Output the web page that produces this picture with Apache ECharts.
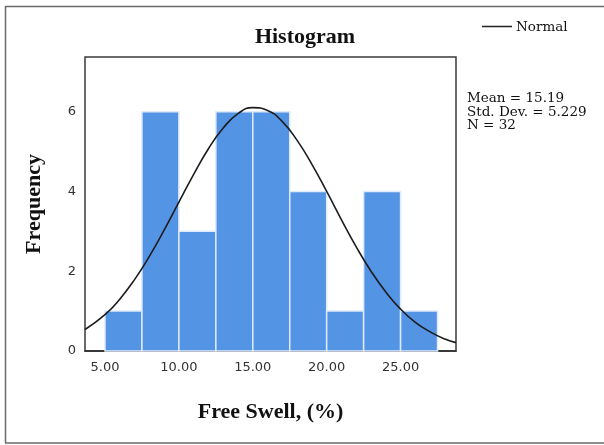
<!DOCTYPE html>
<html>
<head>
<meta charset="utf-8">
<script src="https://cdn.jsdelivr.net/npm/echarts@6/dist/echarts.min.js"></script>
<style>html,body{margin:0;padding:0;background:#fff}#c{width:604px;height:445px}</style>
</head>
<body>
<div id="c"></div>
<script>
// Histogram bins (lower edge, upper edge) and counts
var binStarts = [5.0, 7.5, 10.0, 12.5, 15.0, 17.5, 20.0, 22.5, 25.0];
var binEnds   = [7.5, 10.0, 12.5, 15.0, 17.5, 20.0, 22.5, 25.0, 27.5];
var counts    = [1, 6, 3, 6, 6, 4, 1, 4, 1];
// Normal curve
var curveX = [3.65, 5, 6, 7, 8, 9, 10, 11, 12, 13, 14, 15, 16, 17, 18, 19, 20, 21, 22, 23, 24, 25, 26, 27, 28, 28.75];
var curveY = [0.54, 0.91, 1.30, 1.79, 2.37, 3.03, 3.73, 4.43, 5.07, 5.59, 5.95, 6.10, 6.03, 5.75, 5.28, 4.68, 4.00, 3.29, 2.61, 2.00, 1.48, 1.05, 0.72, 0.48, 0.30, 0.21];
var xTickValues = [5, 10, 15, 20, 25];
var statsLines = ['Mean = 15.19', 'Std. Dev. = 5.229', 'N = 32'];

var barData = binStarts.map(function (s, i) { return [s, binEnds[i], counts[i]]; });
var curveData = curveX.map(function (x, i) { return [x, curveY[i]]; });

var chart = echarts.init(document.getElementById('c'), null, {renderer: 'canvas'});
var boldSerif = 'Liberation Serif';
chart.setOption({
  animation: false,
  backgroundColor: '#ffffff',
  grid: {left: 85, top: 57, right: 148, bottom: 94, show: true, borderColor: '#3a3a3a', borderWidth: 1.5, backgroundColor: 'transparent'},
  xAxis: {
    type: 'value', min: 3.647, max: 28.75,
    name: 'Free Swell, (%)', nameLocation: 'middle', nameGap: 50,
    nameTextStyle: {fontFamily: boldSerif, fontWeight: 'bold', fontSize: 22, color: '#111'},
    axisLine: {show: true, onZero: false, lineStyle: {color: '#2a2a2a', width: 1.5}},
    axisTick: {show: false},
    splitLine: {show: false},
    axisLabel: {customValues: xTickValues, formatter: function (v) { return Number(v).toFixed(2); },
      fontFamily: 'DejaVu Sans', fontSize: 13, color: '#333', margin: 10}
  },
  yAxis: {
    type: 'value', min: 0, max: 7.37, interval: 2,
    name: 'Frequency', nameLocation: 'middle', nameGap: 40,
    nameTextStyle: {fontFamily: boldSerif, fontWeight: 'bold', fontSize: 22, color: '#111'},
    axisLine: {show: false}, axisTick: {show: false}, splitLine: {show: false},
    axisLabel: {fontFamily: 'DejaVu Sans', fontSize: 13, color: '#333', margin: 9, showMaxLabel: false}
  },
  series: [
    {
      type: 'custom', data: barData, z: 2,
      renderItem: function (params, api) {
        var p0 = api.coord([api.value(0), api.value(2)]);
        var p1 = api.coord([api.value(1), 0]);
        return {type: 'rect', shape: {x: p0[0], y: p0[1], width: p1[0] - p0[0], height: p1[1] - p0[1]},
          style: {fill: '#5494e4', stroke: '#dfeafa', lineWidth: 1.5}};
      }
    },
    {
      type: 'line', data: curveData, smooth: true, showSymbol: false, symbol: 'none', z: 3,
      lineStyle: {color: '#1c1c1c', width: 1.6}, clip: true
    }
  ],
  graphic: [
    {type: 'line', shape: {x1: 5.5, y1: 6, x2: 5.5, y2: 443}, style: {stroke: '#6a6a6a', lineWidth: 1.5}},
    {type: 'line', shape: {x1: 5, y1: 6.5, x2: 604, y2: 6.5}, style: {stroke: '#6a6a6a', lineWidth: 1.5}},
    {type: 'line', shape: {x1: 5, y1: 443, x2: 604, y2: 443}, style: {stroke: '#6a6a6a', lineWidth: 1.5}},
    {type: 'text', x: 305, y: 37, style: {text: 'Histogram', font: 'bold 22px "Liberation Serif"', fill: '#111', textAlign: 'center', textVerticalAlign: 'middle'}},
    {type: 'line', shape: {x1: 482, y1: 26.5, x2: 512, y2: 26.5}, style: {stroke: '#222', lineWidth: 1.5}},
    {type: 'text', x: 516, y: 27, style: {text: 'Normal', font: '13.5px "DejaVu Serif"', fill: '#111', textAlign: 'left', textVerticalAlign: 'middle'}},
    {type: 'text', x: 467, y: 92, style: {text: statsLines.join('\n'), font: '13.5px "DejaVu Serif"', lineHeight: 13.5, fill: '#111', textAlign: 'left', textVerticalAlign: 'top'}}
  ]
});
</script>
</body>
</html>
